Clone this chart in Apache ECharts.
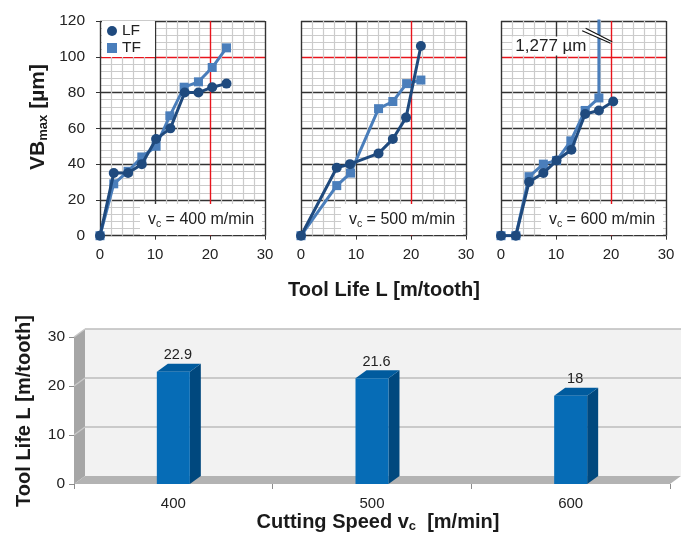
<!DOCTYPE html>
<html><head><meta charset="utf-8">
<script src="https://cdn.jsdelivr.net/npm/echarts@6/dist/echarts.min.js"></script>
<style>html,body{margin:0;padding:0;background:#fff}#c{width:686px;height:538px}</style>
</head><body><div id="c"></div>
<script>
// ---------- data ----------
const lf400X = [0, 2.5, 5.1, 7.6, 10.2, 12.8, 15.4, 17.9, 20.4, 23.0];
const lf400Y = [0, 35, 35, 40, 54, 60, 80, 80, 83, 85];
const tf400X = [0, 2.5, 5.1, 7.6, 10.2, 12.7, 15.3, 17.9, 20.4, 23.0];
const tf400Y = [0, 29, 36, 44, 50, 67, 83, 86, 94, 105];
const lf500X = [0, 6.5, 8.9, 14.1, 16.7, 19.1, 21.8];
const lf500Y = [0, 38, 40, 46, 54, 66, 106];
const tf500X = [0, 6.5, 9.0, 14.1, 16.7, 19.2, 21.8];
const tf500Y = [0, 28, 35, 71, 75, 85, 87];
const lf600X = [0, 2.7, 5.1, 7.7, 10.1, 12.8, 15.3, 17.8, 20.4];
const lf600Y = [0, 0, 30, 35, 42, 48, 68, 70, 75];
const tf600X = [0, 2.7, 5.1, 7.7, 10.1, 12.7, 15.3, 17.8, 17.8];
const tf600Y = [0, 0, 33, 40, 42, 53, 70, 77, 1277];
const panelSpeeds = ['400', '500', '600'];
const breakLabel = '1,277 µm';
const speedCats = ['400', '500', '600'];
const toolLife = [22.9, 21.6, 18];

// ---------- layout / style ----------
const FONT = '"Liberation Sans", Arial, sans-serif';
const P = {lefts: [100, 301, 501], width: 165, top: 21, height: 214.7};
const B = {left: 74, top: 337, width: 596, height: 147, dx: 11, dy: -8};
const MAJOR = '#333333', MINOR = '#cbcbcb', RED = '#e8141c';
const LF_COLOR = '#1f4a7e', TF_COLOR = '#4a7ebb';
const zip = (xs, ys) => xs.map((x, i) => [x, ys[i]]);

const grids = [], xAxes = [], yAxes = [], series = [];
P.lefts.forEach((l, i) => {
  grids.push({left: l, top: P.top, width: P.width, height: P.height, containLabel: false, outerBoundsMode: 'none'});
  xAxes.push({type: 'value', gridIndex: i, min: 0, max: 30, interval: 10,
    axisLine: {show: false}, axisTick: {show: true, length: 4, lineStyle: {color: MAJOR}},
    axisLabel: {fontSize: 15, color: '#222', margin: 12, fontFamily: FONT},
    splitLine: {show: true, lineStyle: {color: [MAJOR, MAJOR, RED, MAJOR], width: 1.4}},
    minorTick: {show: false, splitNumber: 5},
    minorSplitLine: {show: true, lineStyle: {color: MINOR, width: 1.2}}});
  yAxes.push({type: 'value', gridIndex: i, min: 0, max: 120, interval: 20, offset: 10,
    axisLine: {show: false}, axisTick: {show: i === 0, length: 4, lineStyle: {color: MAJOR}},
    axisLabel: {show: i === 0, fontSize: 15.5, color: '#222', margin: 5, fontFamily: FONT},
    splitLine: {show: true, lineStyle: {color: [MAJOR, MAJOR, MAJOR, MAJOR, MAJOR, RED, MAJOR], width: 1.4}},
    minorTick: {show: false, splitNumber: 5},
    minorSplitLine: {show: true, lineStyle: {color: MINOR, width: 1.2}}});
});
const panelData = [[lf400X, lf400Y, tf400X, tf400Y], [lf500X, lf500Y, tf500X, tf500Y], [lf600X, lf600Y, tf600X, tf600Y]];
panelData.forEach((p, i) => {
  series.push({type: 'line', name: 'TF', xAxisIndex: i, yAxisIndex: i, data: zip(p[2], p[3]),
    symbol: 'rect', symbolSize: 9, lineStyle: {width: 3, color: TF_COLOR},
    itemStyle: {color: TF_COLOR, borderWidth: 0}, z: 3, clip: true});
  series.push({type: 'line', name: 'LF', xAxisIndex: i, yAxisIndex: i, data: zip(p[0], p[1]),
    symbol: 'circle', symbolSize: 10, lineStyle: {width: 3, color: LF_COLOR},
    itemStyle: {color: LF_COLOR, borderWidth: 0}, z: 4, clip: true});
});

// bottom chart: front grid (3) and back wall grid (4)
grids.push({left: B.left, top: B.top, width: B.width, height: B.height, outerBoundsMode: 'none'});
grids.push({left: B.left + B.dx, top: B.top + B.dy, width: B.width, height: B.height, show: true,
  backgroundColor: '#f2f2f2', borderWidth: 0, outerBoundsMode: 'none'});
xAxes.push({type: 'category', gridIndex: 3, data: speedCats, boundaryGap: true,
  axisLine: {show: false}, axisTick: {show: true, length: 5, lineStyle: {color: '#8c8c8c'}},
  axisLabel: {fontSize: 15, color: '#222', margin: 12, fontFamily: FONT}, splitLine: {show: false}});
yAxes.push({type: 'value', gridIndex: 3, min: 0, max: 30, interval: 10,
  axisLine: {show: true, lineStyle: {color: '#9a9a9a'}}, axisTick: {show: true, length: 5, lineStyle: {color: '#8c8c8c'}},
  axisLabel: {fontSize: 15.5, color: '#222', margin: 9, fontFamily: FONT}, splitLine: {show: false}});
xAxes.push({type: 'category', gridIndex: 4, data: speedCats, show: false});
yAxes.push({type: 'value', gridIndex: 4, min: 0, max: 30, interval: 10,
  axisLine: {show: false}, axisTick: {show: false}, axisLabel: {show: false},
  splitLine: {show: true, showMinLine: false, lineStyle: {color: '#bcbcbc', width: 1.6}}});

series.push({type: 'custom', xAxisIndex: 3, yAxisIndex: 3, z: 5,
  data: toolLife.map((v, i) => [i, v]), encode: {x: 0, y: 1},
  renderItem: function (params, api) {
    const top = api.coord([api.value(0), api.value(1)]);
    const base = api.coord([api.value(0), 0]);
    const w = 33, dx = B.dx, dy = B.dy;
    const x0 = top[0] - w / 2, x1 = top[0] + w / 2;
    return {type: 'group', children: [
      {type: 'polygon', shape: {points: [[x1, top[1]], [x1 + dx, top[1] + dy], [x1 + dx, base[1] + dy], [x1, base[1]]]}, style: {fill: '#00487e'}},
      {type: 'polygon', shape: {points: [[x0, top[1]], [x0 + dx, top[1] + dy], [x1 + dx, top[1] + dy], [x1, top[1]]]}, style: {fill: '#005b9e'}},
      {type: 'rect', shape: {x: x0, y: top[1], width: w, height: base[1] - top[1]}, style: {fill: '#066cb6'}},
      {type: 'text', x: top[0] + dx / 2 - 1, y: top[1] + dy - 1,
        style: {text: String(api.value(1)), fontSize: 14.5, fontFamily: FONT, fill: '#222', align: 'center', verticalAlign: 'bottom'}}
    ]};
  }});

const chart = echarts.init(document.getElementById('c'), null, {renderer: 'canvas', width: 686, height: 538});
chart.setOption({
  animation: false,
  backgroundColor: '#fff',
  textStyle: {fontFamily: FONT},
  grid: grids, xAxis: xAxes, yAxis: yAxes, series: series,
  legend: {data: [{name: 'LF', icon: 'circle'}, {name: 'TF', icon: 'rect'}], orient: 'vertical',
    left: 102, top: 21, itemWidth: 10, itemHeight: 10, itemGap: 1, itemTextGap: 6,
    backgroundColor: '#fff', padding: [2, 14, 1, 5], selectedMode: false,
    textStyle: {fontSize: 15.5, color: '#222', fontFamily: FONT}}
});

// ---------- decorations ----------
const g = [];
const bold = {fontFamily: FONT, fontWeight: 'bold', fill: '#1a1a1a'};
// panel annotation boxes
P.lefts.forEach((l, i) => {
  g.push({type: 'rect', z: 50, shape: {x: l + 40, y: 204, width: 122, height: 31}, style: {fill: '#fff'}});
  g.push({type: 'text', z: 51, x: l + 101, y: 220, style: {
    text: '{m|v}{s|c}{m| = ' + panelSpeeds[i] + ' m/min}', align: 'center', verticalAlign: 'middle',
    rich: {m: {fontSize: 16, fontFamily: FONT, fill: '#222', lineHeight: 19},
           s: {fontSize: 10.5, fontFamily: FONT, fill: '#222', lineHeight: 10, verticalAlign: 'bottom'}}}});
});
// axis break in panel 3
const xv = chart.convertToPixel({gridIndex: 2}, [tf600X[tf600X.length - 1], 0])[0];
const a0 = [xv - 16.7, 30.7], a1 = [xv + 11.7, 43.3], b0 = [xv - 13.3, 28.3], b1 = [xv + 13.3, 41.7];
g.push({type: 'polygon', z: 52, shape: {points: [a0, b0, b1, a1]}, style: {fill: '#fff'}});
g.push({type: 'line', z: 53, shape: {x1: a0[0], y1: a0[1], x2: a1[0], y2: a1[1]}, style: {stroke: '#111', lineWidth: 1.2}});
g.push({type: 'line', z: 53, shape: {x1: b0[0], y1: b0[1], x2: b1[0], y2: b1[1]}, style: {stroke: '#111', lineWidth: 1.2}});
g.push({type: 'text', z: 52, x: xv - 48, y: 46, style: {text: breakLabel, fontSize: 17, fontFamily: FONT, fill: '#222',
  align: 'center', verticalAlign: 'middle', backgroundColor: '#fff', padding: [1, 3]}});
// axis titles (top)
g.push({type: 'text', z: 20, x: 384, y: 290, style: Object.assign({text: 'Tool Life L [m/tooth]', fontSize: 20, align: 'center', verticalAlign: 'middle'}, bold)});
g.push({type: 'text', z: 20, x: 38, y: 117, rotation: Math.PI / 2, style: {
  text: '{m|VB}{s|max}{m| [µm]}', align: 'center', verticalAlign: 'middle',
  rich: {m: Object.assign({fontSize: 21, lineHeight: 24}, bold), s: Object.assign({fontSize: 13, lineHeight: 13, verticalAlign: 'bottom'}, bold)}}});
// bottom 3D walls
const bot = B.top + B.height;
g.push({type: 'polygon', z: 1, shape: {points: [[B.left, B.top], [B.left + B.dx, B.top + B.dy], [B.left + B.dx, bot + B.dy], [B.left, bot]]}, style: {fill: '#a6a6a6'}});
[10, 20, 30].forEach(v => {
  const y = bot - v / 30 * B.height;
  g.push({type: 'line', z: 1, z2: 5, shape: {x1: B.left, y1: y, x2: B.left + B.dx, y2: y + B.dy}, style: {stroke: '#c9c9c9', lineWidth: 1.2}});
});
g.push({type: 'polygon', z: 1, z2: 6, shape: {points: [[B.left, bot], [B.left + B.dx, bot + B.dy], [B.left + B.width + B.dx, bot + B.dy], [B.left + B.width, bot]]}, style: {fill: '#b3b3b3'}});
// bottom titles
g.push({type: 'text', z: 20, x: 378, y: 522, style: {
  text: '{m|Cutting Speed v}{s|c}{m|  [m/min]}', align: 'center', verticalAlign: 'middle',
  rich: {m: Object.assign({fontSize: 20, lineHeight: 22}, bold), s: Object.assign({fontSize: 13, lineHeight: 12, verticalAlign: 'bottom'}, bold)}}});
g.push({type: 'text', z: 20, x: 24, y: 411, rotation: Math.PI / 2, style: Object.assign({text: 'Tool Life L [m/tooth]', fontSize: 20, align: 'center', verticalAlign: 'middle'}, bold)});

chart.setOption({graphic: {elements: g}});
</script>
</body></html>
